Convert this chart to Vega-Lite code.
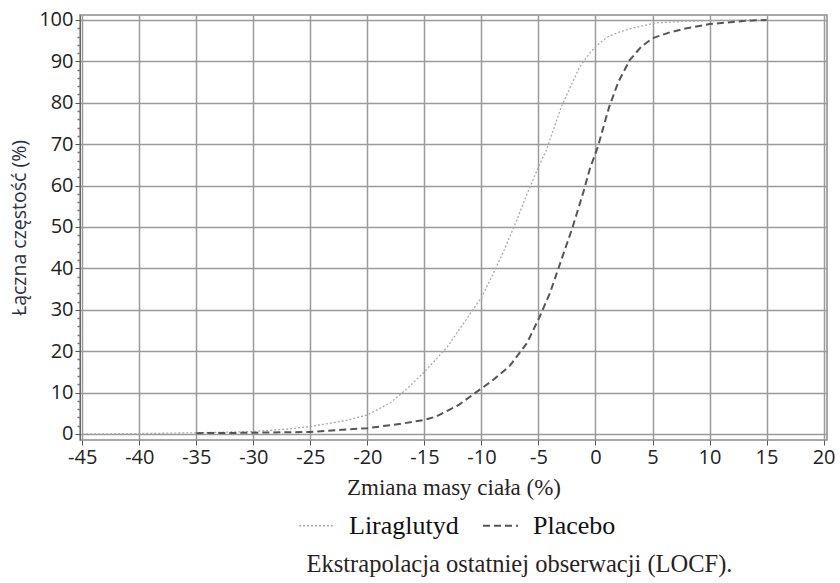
{
  "$schema": "https://vega.github.io/schema/vega-lite/v6.json",
  "width": 747,
  "height": 425,
  "autosize": "none",
  "padding": {"left": 80, "top": 15, "right": 13, "bottom": 143},
  "background": "white",
  "config": {
    "view": {"stroke": "#8c8c8c", "strokeWidth": 1.5},
    "axis": {"labelFont": "Open Sans", "labelFontSize": 20, "labelColor": "#222", "titleFontWeight": "normal", "titleColor": "#2a1f1f", "gridColor": "#9a9a9a", "gridWidth": 1.5, "domainColor": "#666", "tickColor": "#555"}
  },
  "data": {"values": [
    {"x": -45, "y": 0, "g": "Liraglutyd"},
    {"x": -40, "y": 0.1, "g": "Liraglutyd"},
    {"x": -35, "y": 0.3, "g": "Liraglutyd"},
    {"x": -30, "y": 0.6, "g": "Liraglutyd"},
    {"x": -27, "y": 1.2, "g": "Liraglutyd"},
    {"x": -25, "y": 1.8, "g": "Liraglutyd"},
    {"x": -22, "y": 3.2, "g": "Liraglutyd"},
    {"x": -20, "y": 4.6, "g": "Liraglutyd"},
    {"x": -18, "y": 7.5, "g": "Liraglutyd"},
    {"x": -16.5, "y": 11, "g": "Liraglutyd"},
    {"x": -15, "y": 15, "g": "Liraglutyd"},
    {"x": -13, "y": 21, "g": "Liraglutyd"},
    {"x": -12, "y": 25, "g": "Liraglutyd"},
    {"x": -11, "y": 29, "g": "Liraglutyd"},
    {"x": -10, "y": 33, "g": "Liraglutyd"},
    {"x": -9, "y": 38.5, "g": "Liraglutyd"},
    {"x": -8, "y": 44.5, "g": "Liraglutyd"},
    {"x": -7, "y": 51, "g": "Liraglutyd"},
    {"x": -6, "y": 58, "g": "Liraglutyd"},
    {"x": -5, "y": 64.5, "g": "Liraglutyd"},
    {"x": -4.3, "y": 68.6, "g": "Liraglutyd"},
    {"x": -3, "y": 79, "g": "Liraglutyd"},
    {"x": -2, "y": 85, "g": "Liraglutyd"},
    {"x": -1.4, "y": 88.6, "g": "Liraglutyd"},
    {"x": -0.5, "y": 92, "g": "Liraglutyd"},
    {"x": 0, "y": 93.5, "g": "Liraglutyd"},
    {"x": 1, "y": 95.8, "g": "Liraglutyd"},
    {"x": 2, "y": 97, "g": "Liraglutyd"},
    {"x": 3.2, "y": 98, "g": "Liraglutyd"},
    {"x": 5.3, "y": 99.3, "g": "Liraglutyd"},
    {"x": 8, "y": 99.7, "g": "Liraglutyd"},
    {"x": 11, "y": 99.9, "g": "Liraglutyd"},
    {"x": 14, "y": 100, "g": "Liraglutyd"},
    {"x": -35, "y": 0.2, "g": "Placebo"},
    {"x": -30, "y": 0.3, "g": "Placebo"},
    {"x": -25, "y": 0.5, "g": "Placebo"},
    {"x": -22.2, "y": 1, "g": "Placebo"},
    {"x": -20, "y": 1.4, "g": "Placebo"},
    {"x": -17, "y": 2.5, "g": "Placebo"},
    {"x": -15, "y": 3.4, "g": "Placebo"},
    {"x": -14, "y": 4.2, "g": "Placebo"},
    {"x": -12, "y": 7, "g": "Placebo"},
    {"x": -10.2, "y": 10.6, "g": "Placebo"},
    {"x": -9, "y": 13, "g": "Placebo"},
    {"x": -7.5, "y": 16.5, "g": "Placebo"},
    {"x": -6, "y": 22, "g": "Placebo"},
    {"x": -4.9, "y": 28.3, "g": "Placebo"},
    {"x": -4, "y": 34, "g": "Placebo"},
    {"x": -3, "y": 42, "g": "Placebo"},
    {"x": -2, "y": 50, "g": "Placebo"},
    {"x": -1, "y": 59, "g": "Placebo"},
    {"x": -0.5, "y": 64, "g": "Placebo"},
    {"x": 0.2, "y": 69.3, "g": "Placebo"},
    {"x": 1.2, "y": 79, "g": "Placebo"},
    {"x": 2, "y": 85, "g": "Placebo"},
    {"x": 3, "y": 90.3, "g": "Placebo"},
    {"x": 4, "y": 93.5, "g": "Placebo"},
    {"x": 5, "y": 95.6, "g": "Placebo"},
    {"x": 6.5, "y": 97, "g": "Placebo"},
    {"x": 8, "y": 98, "g": "Placebo"},
    {"x": 10, "y": 99, "g": "Placebo"},
    {"x": 13.2, "y": 99.8, "g": "Placebo"},
    {"x": 15, "y": 100, "g": "Placebo"}
  ]},
  "title": {"text": "Ekstrapolacja ostatniej obserwacji (LOCF).", "orient": "bottom", "anchor": "middle", "font": "Liberation Serif, Times New Roman, serif", "fontSize": 24.5, "fontWeight": "normal", "color": "#2a1f1f", "dx": 66, "offset": 14},
  "layer": [
    {
      "mark": {"type": "line", "clip": true},
      "encoding": {
        "x": {"field": "x", "type": "quantitative", "scale": {"domain": [-45.2, 20.3], "nice": false, "zero": false},
          "axis": {"values": [-45, -40, -35, -30, -25, -20, -15, -10, -5, 0, 5, 10, 15, 20], "labelExpr": "(datum.value < 0 ? '-' : '') + abs(datum.value)", "title": "Zmiana masy ciała (%)", "titleFont": "Liberation Serif, Times New Roman, serif", "titleFontSize": 23, "tickSize": 5, "domain": false, "titlePadding": 9, "labelPadding": 2}},
        "y": {"field": "y", "type": "quantitative", "scale": {"domain": [-1.45, 101.2], "nice": false, "zero": false},
          "axis": {"values": [0, 10, 20, 30, 40, 50, 60, 70, 80, 90, 100], "title": "Łączna częstość (%)", "titleFont": "Open Sans", "titleFontSize": 19.5, "titleColor": "#2b2f45", "tickSize": 5, "domain": true, "titlePadding": 9, "labelPadding": 2}},
        "color": {"field": "g", "type": "nominal", "scale": {"domain": ["Liraglutyd", "Placebo"], "range": ["#a8a8a8", "#555555"]},
          "legend": {"title": null, "orient": "none", "legendX": 218, "legendY": 492, "direction": "horizontal", "symbolType": "stroke", "symbolSize": 1225, "symbolStrokeWidth": 1.6, "labelFont": "Liberation Serif, Times New Roman, serif", "labelFontSize": 26, "labelColor": "#111", "labelOffset": 14, "columnPadding": 20, "labelLimit": 300}},
        "strokeDash": {"field": "g", "type": "nominal", "scale": {"domain": ["Liraglutyd", "Placebo"], "range": [[2, 2], [7, 4]]}, "legend": null},
        "strokeWidth": {"field": "g", "type": "nominal", "scale": {"domain": ["Liraglutyd", "Placebo"], "range": [1.3, 2]}, "legend": null}
      }
    },
    {
      "mark": {"type": "line", "opacity": 0},
      "encoding": {
        "x": {"field": "x", "type": "quantitative"},
        "y": {"field": "y", "type": "quantitative",
          "axis": {"orient": "left", "offset": 0, "values": [2, 4, 6, 8, 12, 14, 16, 18, 22, 24, 26, 28, 32, 34, 36, 38, 42, 44, 46, 48, 52, 54, 56, 58, 62, 64, 66, 68, 72, 74, 76, 78, 82, 84, 86, 88, 92, 94, 96, 98], "labels": false, "grid": false, "domain": false, "title": null, "tickSize": 3, "tickWidth": 1.5, "tickColor": "#777"}},
        "detail": {"field": "g", "type": "nominal"}
      }
    }
  ],
  "resolve": {"axis": {"y": "independent"}}
}
